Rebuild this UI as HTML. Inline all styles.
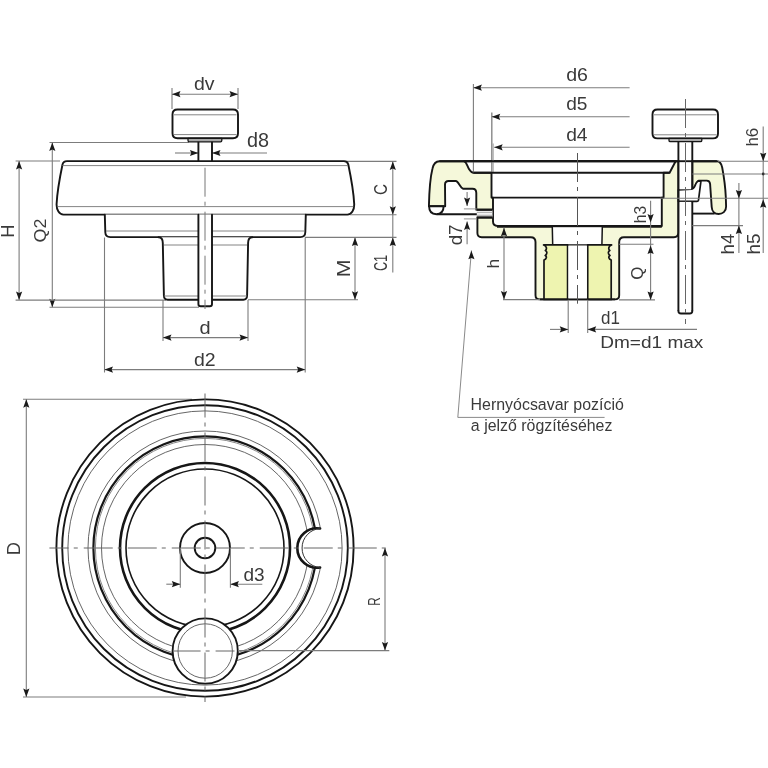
<!DOCTYPE html>
<html><head><meta charset="utf-8"><style>
html,body{margin:0;padding:0;background:#fff;}
svg{display:block;will-change:transform;}
text{font-family:"Liberation Sans",sans-serif;fill:#3a3a3a;}
</style></head><body>
<svg width="768" height="768" viewBox="0 0 768 768">
<defs>
<mask id="notchmask" maskUnits="userSpaceOnUse" x="0" y="0" width="768" height="768">
<rect x="0" y="0" width="768" height="768" fill="#fff"/>
<circle cx="317" cy="548" r="19.5" fill="#000"/>
</mask>
</defs>
<rect width="768" height="768" fill="#fff"/>
<line x1="172" y1="88" x2="172" y2="109" stroke="#7c7c7c" stroke-width="1.1" />
<line x1="238" y1="88" x2="238" y2="109" stroke="#7c7c7c" stroke-width="1.1" />
<line x1="172" y1="94.2" x2="238" y2="94.2" stroke="#7c7c7c" stroke-width="1.1" />
<path d="M172.00,94.20 L180.50,91.10 L179.10,94.20 L180.50,97.30 Z" fill="#1a1a1a"/>
<path d="M238.00,94.20 L229.50,97.30 L230.90,94.20 L229.50,91.10 Z" fill="#1a1a1a"/>
<text transform="matrix(0.19505,0,0,0.19048,194.02,90.41)" font-size="100">dv</text>
<line x1="175" y1="153" x2="198.4" y2="153" stroke="#7c7c7c" stroke-width="1.1" />
<path d="M198.40,153.00 L189.90,156.10 L191.30,153.00 L189.90,149.90 Z" fill="#1a1a1a"/>
<line x1="212" y1="153" x2="267" y2="153" stroke="#7c7c7c" stroke-width="1.1" />
<path d="M212.00,153.00 L220.50,149.90 L219.10,153.00 L220.50,156.10 Z" fill="#1a1a1a"/>
<text transform="matrix(0.19806,0,0,0.19388,246.91,146.56)" font-size="100">d8</text>
<line x1="49.5" y1="142.5" x2="189" y2="142.5" stroke="#7c7c7c" stroke-width="1.1" />
<line x1="15.6" y1="161" x2="60" y2="161" stroke="#7c7c7c" stroke-width="1.1" />
<line x1="19.1" y1="161" x2="19.1" y2="300.1" stroke="#7c7c7c" stroke-width="1.1" />
<path d="M19.10,161.00 L22.20,169.50 L19.10,168.10 L16.00,169.50 Z" fill="#1a1a1a"/>
<path d="M19.10,300.10 L16.00,291.60 L19.10,293.00 L22.20,291.60 Z" fill="#1a1a1a"/>
<text transform="matrix(0,-0.18393,0.19130,0,13.90,237.67)" font-size="100">H</text>
<line x1="52.3" y1="142.5" x2="52.3" y2="307.3" stroke="#7c7c7c" stroke-width="1.1" />
<path d="M52.30,142.50 L55.40,151.00 L52.30,149.60 L49.20,151.00 Z" fill="#1a1a1a"/>
<path d="M52.30,307.30 L49.20,298.80 L52.30,300.20 L55.40,298.80 Z" fill="#1a1a1a"/>
<text transform="matrix(0,-0.17903,0.16854,0,45.70,242.41)" font-size="100">Q2</text>
<line x1="15.6" y1="300.1" x2="166" y2="300.1" stroke="#7c7c7c" stroke-width="1.1" />
<line x1="49.5" y1="307.3" x2="199" y2="307.3" stroke="#7c7c7c" stroke-width="1.1" />
<line x1="104.5" y1="237.5" x2="104.5" y2="372.5" stroke="#7c7c7c" stroke-width="1.1" />
<line x1="305.2" y1="237.5" x2="305.2" y2="372.5" stroke="#7c7c7c" stroke-width="1.1" />
<line x1="104.5" y1="369.6" x2="305.2" y2="369.6" stroke="#7c7c7c" stroke-width="1.1" />
<path d="M104.50,369.60 L113.00,366.50 L111.60,369.60 L113.00,372.70 Z" fill="#1a1a1a"/>
<path d="M305.20,369.60 L296.70,372.70 L298.10,369.60 L296.70,366.50 Z" fill="#1a1a1a"/>
<text transform="matrix(0.19510,0,0,0.18639,194.02,366.01)" font-size="100">d2</text>
<line x1="163" y1="300" x2="163" y2="341" stroke="#7c7c7c" stroke-width="1.1" />
<line x1="248" y1="300" x2="248" y2="341" stroke="#7c7c7c" stroke-width="1.1" />
<line x1="163" y1="337.6" x2="248" y2="337.6" stroke="#7c7c7c" stroke-width="1.1" />
<path d="M163.00,337.60 L171.50,334.50 L170.10,337.60 L171.50,340.70 Z" fill="#1a1a1a"/>
<path d="M248.00,337.60 L239.50,340.70 L240.90,337.60 L239.50,334.50 Z" fill="#1a1a1a"/>
<text transform="matrix(0.20000,0,0,0.18503,199.40,333.91)" font-size="100">d</text>
<line x1="346" y1="161.4" x2="396.5" y2="161.4" stroke="#7c7c7c" stroke-width="1.1" />
<line x1="350" y1="214.8" x2="396.5" y2="214.8" stroke="#7c7c7c" stroke-width="1.1" />
<line x1="305" y1="237.4" x2="396.5" y2="237.4" stroke="#7c7c7c" stroke-width="1.1" />
<line x1="248" y1="299.8" x2="358" y2="299.8" stroke="#7c7c7c" stroke-width="1.1" />
<line x1="392.8" y1="161.4" x2="392.8" y2="214.8" stroke="#7c7c7c" stroke-width="1.1" />
<path d="M392.80,161.40 L395.90,169.90 L392.80,168.50 L389.70,169.90 Z" fill="#1a1a1a"/>
<path d="M392.80,214.80 L389.70,206.30 L392.80,207.70 L395.90,206.30 Z" fill="#1a1a1a"/>
<line x1="392.8" y1="214.8" x2="392.8" y2="272.5" stroke="#7c7c7c" stroke-width="1.1" />
<path d="M392.80,237.60 L395.90,246.10 L392.80,244.70 L389.70,246.10 Z" fill="#1a1a1a"/>
<text transform="matrix(0,-0.15276,0.19155,0,387.01,195.06)" font-size="100">C</text>
<text transform="matrix(0,-0.12627,0.19155,0,387.01,271.03)" font-size="100">C1</text>
<line x1="355" y1="237.5" x2="355" y2="299.8" stroke="#7c7c7c" stroke-width="1.1" />
<path d="M355.00,237.60 L358.10,246.10 L355.00,244.70 L351.90,246.10 Z" fill="#1a1a1a"/>
<path d="M355.00,299.80 L351.90,291.30 L355.00,292.70 L358.10,291.30 Z" fill="#1a1a1a"/>
<text transform="matrix(0,-0.21343,0.18841,0,350.20,277.31)" font-size="100">M</text>
<path d="M177.5,109.5 L233,109.5 Q238,109.5 238,114.5 L238,133.2 Q238,138.2 233,138.2 L177.5,138.2 Q172.5,138.2 172.5,133.2 L172.5,114.5 Q172.5,109.5 177.5,109.5 Z" stroke="#161616" stroke-width="1.9" fill="#fff" stroke-linejoin="round" stroke-linecap="round" />
<line x1="174" y1="114.8" x2="236.5" y2="114.8" stroke="#777" stroke-width="0.9" />
<line x1="174" y1="134.6" x2="236.5" y2="134.6" stroke="#777" stroke-width="0.9" />
<path d="M188,138.4 L221.8,138.4 L221.8,140.6 Q221.8,141.8 220.5,141.8 L189.3,141.8 Q188,141.8 188,140.6 Z" stroke="#161616" stroke-width="1.3" fill="#a8a8a8" stroke-linejoin="round" stroke-linecap="round" />
<line x1="198.4" y1="141.8" x2="198.4" y2="161" stroke="#161616" stroke-width="1.9" />
<line x1="212" y1="141.8" x2="212" y2="161" stroke="#161616" stroke-width="1.9" />
<path d="M66.9,161.1 L344,161.1 C346.5,161.1 347.8,162.5 348.3,164.5 C350.5,175 353.5,190 354.2,204 C354.4,210 351.5,214.6 347.4,214.6 L63.5,214.6 C59.3,214.6 56.4,210 56.6,204 C57.3,190 60.3,175 62.5,164.5 C63,162.5 64.4,161.1 66.9,161.1 Z" stroke="#161616" stroke-width="1.9" fill="#fff" stroke-linejoin="round" stroke-linecap="round" />
<line x1="62.3" y1="165.6" x2="348" y2="165.6" stroke="#777" stroke-width="0.9" />
<line x1="57.6" y1="206.6" x2="353.4" y2="206.6" stroke="#777" stroke-width="0.9" />
<path d="M104.8,214.6 L105.3,232.3 Q105.4,237.1 110.4,237.1 L300.3,237.1 Q305.2,237.1 305.3,232.3 L305.8,214.6" stroke="#161616" stroke-width="1.9" fill="#fff" stroke-linejoin="round" stroke-linecap="round" />
<line x1="106" y1="231" x2="304.2" y2="231" stroke="#777" stroke-width="0.9" />
<path d="M158.6,237.2 Q162.8,237.4 162.8,243 L163.9,295.6 Q164,299.7 167.6,299.7 L243.4,299.7 Q247,299.7 247.1,295.6 L248.1,243 Q248.1,237.4 252.3,237.2" stroke="#161616" stroke-width="1.9" fill="#fff" stroke-linejoin="round" stroke-linecap="round" />
<line x1="163.9" y1="245" x2="247" y2="245" stroke="#777" stroke-width="0.9" />
<line x1="163.9" y1="296" x2="247" y2="296" stroke="#777" stroke-width="0.9" />
<path d="M198.4,214.7 L198.4,304 Q198.4,306.3 200.6,306.3 L209.8,306.3 Q212,306.3 212,304 L212,214.7" stroke="#161616" stroke-width="1.9" fill="#fff" stroke-linejoin="round" stroke-linecap="round" />
<line x1="205" y1="167.7" x2="205" y2="309" stroke="#777" stroke-width="1.0" stroke-dasharray="29 5 4 6" stroke-dashoffset="0"/>
<line x1="473.4" y1="84" x2="473.4" y2="172.5" stroke="#7c7c7c" stroke-width="1.1" />
<line x1="491.8" y1="112.5" x2="491.8" y2="172.8" stroke="#888" stroke-width="1.4" />
<line x1="473.4" y1="87.7" x2="629.6" y2="87.7" stroke="#7c7c7c" stroke-width="1.1" />
<path d="M473.40,87.70 L481.90,84.60 L480.50,87.70 L481.90,90.80 Z" fill="#1a1a1a"/>
<line x1="491.8" y1="116.8" x2="629.6" y2="116.8" stroke="#7c7c7c" stroke-width="1.1" />
<path d="M491.80,116.80 L500.30,113.70 L498.90,116.80 L500.30,119.90 Z" fill="#1a1a1a"/>
<line x1="494.2" y1="147.3" x2="629.6" y2="147.3" stroke="#7c7c7c" stroke-width="1.1" />
<path d="M494.20,147.30 L502.70,144.20 L501.30,147.30 L502.70,150.40 Z" fill="#1a1a1a"/>
<text transform="matrix(0.19612,0,0,0.18912,566.22,81.31)" font-size="100">d6</text>
<text transform="matrix(0.19126,0,0,0.18776,566.13,110.41)" font-size="100">d5</text>
<text transform="matrix(0.19231,0,0,0.18776,566.13,140.81)" font-size="100">d4</text>
<path d="M439.4,161.2 L678.4,161.2 L678.4,232.6 Q678.4,237.2 673.8,237.2 L624,237.2 Q619.2,237.2 619.2,242 L619.2,295.2 Q619.2,299.4 615,299.4 L540,299.4 Q535.5,299.4 535.5,295.2 L535.5,242 Q535.5,237.2 530.7,237.2 L481.7,237.2 Q477.4,237.2 477.4,233 L477.4,217.5 L492.5,217.5 L492.5,209.7 L476.3,209.7 L476.3,193 Q476.3,188.7 472.5,188.7 L463.1,188.7 C460,188 458.5,181.2 455.8,181 L448.6,181 Q445,181 445,184.6 L445.2,206.3 L428.9,206.3 C429.2,192 430.6,176 432.5,168.5 C433.6,163.5 435.8,161.2 439.4,161.2 Z" stroke="#161616" stroke-width="1.9" fill="#f5f8da" stroke-linejoin="round" stroke-linecap="round" />
<path d="M692.3,161.2 L716.8,161.2 C719.5,161.2 721.4,163.5 722.2,167.5 C723.6,175 725.4,188 725.8,197 L726.1,206.5 C726.2,211.5 722.5,214 718.6,214 C714.5,214 711.9,211 711.7,207 L710.1,184 Q709.8,180.6 706.8,180.6 L698.8,180.6 C696.2,181.3 695.6,185 694.6,187 Q693.6,189 691.5,189.1 L692.3,189.1 Z" stroke="#161616" stroke-width="1.9" fill="#f5f8da" stroke-linejoin="round" stroke-linecap="round" />
<path d="M464,161.2 L675.6,161.2 L669.6,172.8 L663.6,172.8 L663.6,197.6 L661.8,197.6 L661.8,226 L497.7,226 Q493,225.8 493,221.5 L493,197.6 L491.5,197.6 L491.5,172.8 L473.5,172.8 C471.5,172.8 470.5,171.5 469.3,169.6 C467.2,166.3 466.6,162 464,161.2 Z" stroke="#161616" stroke-width="1.9" fill="#fff" stroke-linejoin="round" stroke-linecap="round" />
<line x1="473.4" y1="161.2" x2="473.4" y2="172.4" stroke="#7c7c7c" stroke-width="1.1" />
<line x1="491.8" y1="161.2" x2="491.8" y2="172.4" stroke="#888" stroke-width="1.4" />
<line x1="493.1" y1="143.5" x2="493.1" y2="172.4" stroke="#aaa" stroke-width="1.3" />
<line x1="439.4" y1="161.2" x2="716.8" y2="161.2" stroke="#161616" stroke-width="1.9" />
<line x1="491.5" y1="197.6" x2="663.6" y2="197.6" stroke="#161616" stroke-width="1.9" />
<line x1="473.5" y1="172.8" x2="669.6" y2="172.8" stroke="#161616" stroke-width="1.9" />
<line x1="497" y1="226.4" x2="661.8" y2="226.4" stroke="#161616" stroke-width="2.6" />
<path d="M429.1,206.3 L443.6,206.3 Q443.6,214.2 436.4,214.2 Q429.1,214.2 429.1,206.3 Z" stroke="#161616" stroke-width="1.9" fill="#fff" stroke-linejoin="round" stroke-linecap="round" />
<line x1="437" y1="214.3" x2="477" y2="214.3" stroke="#161616" stroke-width="1.9" />
<rect x="476.8" y="209.8" width="15.7" height="7.6" fill="#f4f4f4"/>
<line x1="476.8" y1="209.8" x2="492.5" y2="209.8" stroke="#161616" stroke-width="2.2" />
<line x1="476.8" y1="217.4" x2="492.5" y2="217.4" stroke="#161616" stroke-width="2.2" />
<line x1="476.8" y1="212.4" x2="492.5" y2="212.4" stroke="#999" stroke-width="0.8" />
<line x1="476.8" y1="215.3" x2="492.5" y2="215.3" stroke="#999" stroke-width="0.8" />
<path d="M552.3,227.2 L552.7,244.9 L601.9,244.9 L602.3,227.2" stroke="#161616" stroke-width="1.5" fill="#fff" stroke-linejoin="round" stroke-linecap="round" />
<path d="M543.6,244.9 L567.6,244.9 L567.6,299.4 L544,299.4 L544,260 C546.5,259 547.2,256.5 545.2,255.4 C547.4,254.2 547.4,251.4 545.4,250.4 C547.2,249 546.6,246 543.6,244.9 Z" stroke="#161616" stroke-width="1.7" fill="#eef4b0" stroke-linejoin="round" stroke-linecap="round" />
<path d="M611.6,244.9 L587.7,244.9 L587.7,299.4 L611.2,299.4 L611.2,260 C608.7,259 608,256.5 610,255.4 C607.8,254.2 607.8,251.4 609.8,250.4 C608,249 608.6,246 611.6,244.9 Z" stroke="#161616" stroke-width="1.7" fill="#eef4b0" stroke-linejoin="round" stroke-linecap="round" />
<rect x="568.4" y="245.6" width="18.5" height="53.2" fill="#fff"/>
<line x1="540" y1="299.4" x2="615" y2="299.4" stroke="#161616" stroke-width="1.9" />
<path d="M678.4,189.9 L691.5,189.1 C693.6,189 694.6,187 695.2,185.5 C696,183 697,181.2 699.4,181 L700.9,181.4 L698.5,200.2 Q698.2,201.3 697,201.3 L678.4,201.3 Z" stroke="#161616" stroke-width="1.7" fill="#fff" stroke-linejoin="round" stroke-linecap="round" />
<line x1="692.3" y1="213.6" x2="714.7" y2="213.6" stroke="#161616" stroke-width="1.9" />
<rect x="679.4" y="141.8" width="11.9" height="47.5" fill="#fff"/>
<rect x="679.4" y="201.9" width="11.9" height="110.5" fill="#fff"/>
<line x1="678.4" y1="141.8" x2="678.4" y2="311" stroke="#161616" stroke-width="1.9" />
<line x1="692.3" y1="141.8" x2="692.3" y2="189.2" stroke="#161616" stroke-width="1.9" />
<line x1="692.3" y1="201.3" x2="692.3" y2="311" stroke="#161616" stroke-width="1.9" />
<path d="M678.4,311 Q678.4,313.5 681,313.5 L689.7,313.5 Q692.3,313.5 692.3,311" stroke="#161616" stroke-width="1.9" fill="none" stroke-linejoin="round" stroke-linecap="round" />
<line x1="678.4" y1="161.2" x2="692.3" y2="161.2" stroke="#161616" stroke-width="1.9" />
<path d="M657.5,109.5 L713,109.5 Q718,109.5 718,114.5 L718,133.4 Q718,138.4 713,138.4 L657.5,138.4 Q652.5,138.4 652.5,133.4 L652.5,114.5 Q652.5,109.5 657.5,109.5 Z" stroke="#161616" stroke-width="1.9" fill="#fff" stroke-linejoin="round" stroke-linecap="round" />
<line x1="654" y1="114.8" x2="716.5" y2="114.8" stroke="#777" stroke-width="0.9" />
<line x1="654" y1="134.8" x2="716.5" y2="134.8" stroke="#777" stroke-width="0.9" />
<path d="M669,138.4 L701.8,138.4 L701.8,140.4 Q701.8,141.6 700.5,141.6 L670.3,141.6 Q669,141.6 669,140.4 Z" stroke="#161616" stroke-width="1.3" fill="#a8a8a8" stroke-linejoin="round" stroke-linecap="round" />
<line x1="685.5" y1="99" x2="685.5" y2="324" stroke="#666" stroke-width="1.0" stroke-dasharray="29 5 4 6" stroke-dashoffset="0"/>
<line x1="577.5" y1="153" x2="577.5" y2="303.7" stroke="#555" stroke-width="1.0" stroke-dasharray="29 5 4 6" stroke-dashoffset="0"/>
<line x1="568.2" y1="299.7" x2="568.2" y2="333" stroke="#7c7c7c" stroke-width="1.1" />
<line x1="587.7" y1="299.7" x2="587.7" y2="333" stroke="#7c7c7c" stroke-width="1.1" />
<line x1="550" y1="329.4" x2="568.2" y2="329.4" stroke="#7c7c7c" stroke-width="1.1" />
<path d="M568.20,329.40 L559.70,332.50 L561.10,329.40 L559.70,326.30 Z" fill="#1a1a1a"/>
<line x1="587.7" y1="329.4" x2="697" y2="329.4" stroke="#7c7c7c" stroke-width="1.1" />
<path d="M587.70,329.40 L596.20,326.30 L594.80,329.40 L596.20,332.50 Z" fill="#1a1a1a"/>
<text transform="matrix(0.16976,0,0,0.18707,601.12,323.56)" font-size="100">d1</text>
<text transform="matrix(0.19062,0,0,0.16803,600.18,348.43)" font-size="100">Dm=d1 max</text>
<line x1="718" y1="161.2" x2="768" y2="161.2" stroke="#7c7c7c" stroke-width="1.1" />
<line x1="692.3" y1="174" x2="768" y2="174" stroke="#7c7c7c" stroke-width="1.1" />
<line x1="660" y1="198.3" x2="768" y2="198.3" stroke="#7c7c7c" stroke-width="1.1" />
<line x1="692.3" y1="225.6" x2="743" y2="225.6" stroke="#7c7c7c" stroke-width="1.1" />
<line x1="763.2" y1="126.5" x2="763.2" y2="253" stroke="#7c7c7c" stroke-width="1.1" />
<path d="M763.20,161.20 L760.10,152.70 L763.20,154.10 L766.30,152.70 Z" fill="#1a1a1a"/>
<circle cx="763.2" cy="174" r="1.4" fill="#333"/>
<path d="M763.20,199.30 L766.30,207.80 L763.20,206.40 L760.10,207.80 Z" fill="#1a1a1a"/>
<text transform="matrix(0,-0.16900,0.16327,0,757.54,146.58)" font-size="100">h6</text>
<text transform="matrix(0,-0.18900,0.17687,0,759.52,254.42)" font-size="100">h5</text>
<line x1="738.9" y1="183" x2="738.9" y2="253" stroke="#7c7c7c" stroke-width="1.1" />
<path d="M738.90,198.40 L735.80,189.90 L738.90,191.30 L742.00,189.90 Z" fill="#1a1a1a"/>
<path d="M738.90,225.60 L742.00,234.10 L738.90,232.70 L735.80,234.10 Z" fill="#1a1a1a"/>
<text transform="matrix(0,-0.18713,0.18897,0,734.40,254.41)" font-size="100">h4</text>
<line x1="650.6" y1="200.7" x2="650.6" y2="300" stroke="#7c7c7c" stroke-width="1.1" />
<path d="M650.60,222.60 L647.50,214.10 L650.60,215.50 L653.70,214.10 Z" fill="#1a1a1a"/>
<text transform="matrix(0,-0.15700,0.16599,0,645.63,223.30)" font-size="100">h3</text>
<line x1="619" y1="244.3" x2="653.5" y2="244.3" stroke="#7c7c7c" stroke-width="1.1" />
<line x1="619" y1="299.9" x2="655" y2="299.9" stroke="#7c7c7c" stroke-width="1.1" />
<path d="M650.60,245.60 L653.70,254.10 L650.60,252.70 L647.50,254.10 Z" fill="#1a1a1a"/>
<path d="M650.60,299.90 L647.50,291.40 L650.60,292.80 L653.70,291.40 Z" fill="#1a1a1a"/>
<text transform="matrix(0,-0.16788,0.16067,0,643.45,279.66)" font-size="100">Q</text>
<line x1="504" y1="227.8" x2="504" y2="299.6" stroke="#7c7c7c" stroke-width="1.1" />
<path d="M504.00,227.80 L507.10,236.30 L504.00,234.90 L500.90,236.30 Z" fill="#1a1a1a"/>
<path d="M504.00,299.60 L500.90,291.10 L504.00,292.50 L507.10,291.10 Z" fill="#1a1a1a"/>
<line x1="503" y1="299.6" x2="540" y2="299.6" stroke="#7c7c7c" stroke-width="1.1" />
<text transform="matrix(0,-0.17381,0.16276,0,498.80,268.62)" font-size="100">h</text>
<line x1="463.9" y1="208.9" x2="476.8" y2="208.9" stroke="#888" stroke-width="0.9" />
<line x1="463.9" y1="218.9" x2="476.8" y2="218.9" stroke="#888" stroke-width="0.9" />
<line x1="467.1" y1="192" x2="467.1" y2="206" stroke="#7c7c7c" stroke-width="1.1" />
<path d="M467.10,206.00 L464.00,197.50 L467.10,198.90 L470.20,197.50 Z" fill="#1a1a1a"/>
<line x1="467.1" y1="221.5" x2="467.1" y2="244.3" stroke="#7c7c7c" stroke-width="1.1" />
<path d="M467.10,221.50 L470.20,230.00 L467.10,228.60 L464.00,230.00 Z" fill="#1a1a1a"/>
<text transform="matrix(0,-0.18725,0.19184,0,462.11,245.35)" font-size="100">d7</text>
<path d="M471.4,250.8 L457.8,417.4 L604.2,417.4" stroke="#7c7c7c" stroke-width="0.9" fill="none" stroke-linejoin="round" stroke-linecap="round" />
<path d="M471.40,250.80 L474.50,259.30 L471.40,257.90 L468.30,259.30 Z" fill="#1a1a1a"/>
<text transform="matrix(0.15956,0,0,0.15942,470.52,409.90)" font-size="100">Hernyócsavar pozíció</text>
<text transform="matrix(0.15934,0,0,0.15660,470.86,431.40)" font-size="100">a jelző rögzítéséhez</text>
<line x1="23" y1="399.2" x2="192" y2="399.2" stroke="#7c7c7c" stroke-width="1.1" />
<line x1="23" y1="697" x2="186" y2="697" stroke="#7c7c7c" stroke-width="1.1" />
<line x1="26.3" y1="399.2" x2="26.3" y2="697" stroke="#7c7c7c" stroke-width="1.1" />
<path d="M26.30,399.20 L29.40,407.70 L26.30,406.30 L23.20,407.70 Z" fill="#1a1a1a"/>
<path d="M26.30,697.00 L23.20,688.50 L26.30,689.90 L29.40,688.50 Z" fill="#1a1a1a"/>
<text transform="matrix(0,-0.18319,0.18841,0,20.30,555.17)" font-size="100">D</text>
<circle cx="205" cy="548" r="148.6" stroke="#161616" stroke-width="1.9" fill="none" />
<circle cx="205" cy="548" r="142.8" stroke="#161616" stroke-width="1.9" fill="none" />
<circle cx="205" cy="548" r="137.1" stroke="#555" stroke-width="0.9" fill="none" />
<g mask="url(#notchmask)">
<circle cx="205" cy="548" r="117" stroke="#555" stroke-width="0.9" fill="none" />
<circle cx="205" cy="548" r="111.6" stroke="#161616" stroke-width="2.2" fill="none" />
<circle cx="205" cy="548" r="109.6" stroke="#777" stroke-width="0.9" fill="none" />
<circle cx="205" cy="548" r="103.5" stroke="#555" stroke-width="0.9" fill="none" />
</g>
<circle cx="205" cy="548" r="85" stroke="#161616" stroke-width="2.6" fill="none" />
<circle cx="205" cy="548" r="79" stroke="#161616" stroke-width="1.6" fill="none" />
<path d="M320.1,528.5 A19.74,19.74 0 1 0 320.1,567.5" stroke="#161616" stroke-width="2.6" fill="none" stroke-linecap="round"/>
<path d="M320.1,528.5 A19.56,19.56 0 0 0 320.1,567.5" stroke="#333" stroke-width="1.0" fill="none"/>
<circle cx="205" cy="548" r="25" stroke="#161616" stroke-width="1.9" fill="none" />
<circle cx="205" cy="548" r="10.3" stroke="#161616" stroke-width="1.9" fill="none" />
<circle cx="205.2" cy="651" r="32.6" stroke="#161616" stroke-width="1.9" fill="#fff"/>
<circle cx="205.2" cy="651" r="27.2" stroke="#555" stroke-width="0.9" fill="none"/>
<line x1="49.4" y1="548" x2="389" y2="548" stroke="#666" stroke-width="1.0" stroke-dasharray="29 5 4 6" stroke-dashoffset="9.65"/>
<line x1="205" y1="393.5" x2="205" y2="702" stroke="#666" stroke-width="1.0" stroke-dasharray="29 5 4 6" stroke-dashoffset="5"/>
<line x1="173.6" y1="651" x2="234.5" y2="651" stroke="#666" stroke-width="1.0" stroke-dasharray="29 5 4 6" stroke-dashoffset="2"/>
<line x1="180.3" y1="548" x2="180.3" y2="587.7" stroke="#7c7c7c" stroke-width="1.1" />
<line x1="230.4" y1="548" x2="230.4" y2="587.7" stroke="#7c7c7c" stroke-width="1.1" />
<line x1="166.3" y1="584.2" x2="180.3" y2="584.2" stroke="#7c7c7c" stroke-width="1.1" />
<path d="M180.30,584.20 L171.80,587.30 L173.20,584.20 L171.80,581.10 Z" fill="#1a1a1a"/>
<line x1="230.4" y1="584.2" x2="262.3" y2="584.2" stroke="#7c7c7c" stroke-width="1.1" />
<path d="M230.40,584.20 L238.90,581.10 L237.50,584.20 L238.90,587.30 Z" fill="#1a1a1a"/>
<text transform="matrix(0.19029,0,0,0.18776,243.54,580.91)" font-size="100">d3</text>
<line x1="238" y1="650.6" x2="389.3" y2="650.6" stroke="#7c7c7c" stroke-width="1.1" />
<line x1="385" y1="548" x2="385" y2="650.6" stroke="#7c7c7c" stroke-width="1.1" />
<path d="M385.00,548.00 L388.10,556.50 L385.00,555.10 L381.90,556.50 Z" fill="#1a1a1a"/>
<path d="M385.00,650.60 L381.90,642.10 L385.00,643.50 L388.10,642.10 Z" fill="#1a1a1a"/>
<text transform="matrix(0,-0.11765,0.16522,0,380.00,605.64)" font-size="100">R</text>
</svg>
</body></html>
